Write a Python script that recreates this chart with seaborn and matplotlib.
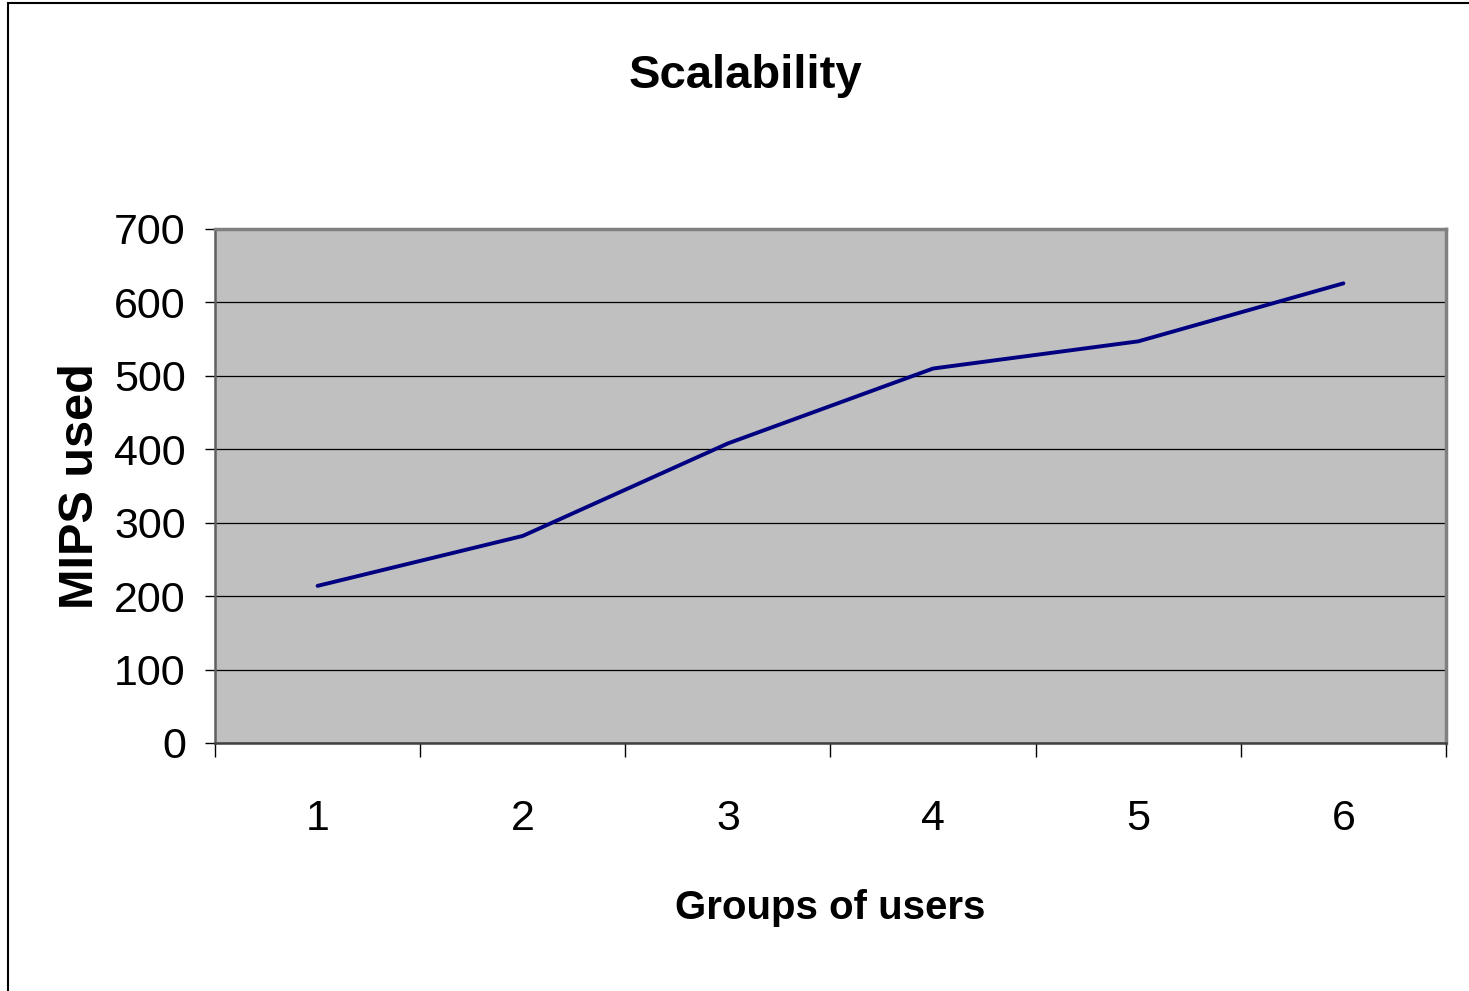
import matplotlib
matplotlib.use("Agg")
import matplotlib.pyplot as plt
import seaborn as sns
import pandas as pd
from matplotlib.patches import Rectangle

groups = [1, 2, 3, 4, 5, 6]
mips_used = [214, 282, 408, 510, 547, 626]
y_ticks = [0, 100, 200, 300, 400, 500, 600, 700]

df = pd.DataFrame({"group": groups, "mips": mips_used})

sns.set_style("white")
plt.rcParams["font.family"] = ["Liberation Sans", "DejaVu Sans"]
plt.rcParams["text.color"] = "black"
plt.rcParams["axes.labelcolor"] = "black"
plt.rcParams["xtick.color"] = "black"
plt.rcParams["ytick.color"] = "black"

fig = plt.figure(figsize=(14.69, 9.91), dpi=100)
ax = fig.add_axes([215 / 1469, 1 - 743 / 991, (1446 - 215) / 1469, 514 / 991])
ax.set_facecolor("#C0C0C0")

sns.lineplot(data=df, x="group", y="mips", ax=ax, color="#000080", linewidth=2.8)

ax.set_xlim(0.5, 6.5)
ax.set_ylim(0, 700)
ax.set_yticks(y_ticks)
ax.set_yticklabels([str(v) for v in y_ticks], fontsize=31)
ax.set_xticks(groups)
ax.set_xticklabels([str(g) for g in groups], fontsize=31)
ax.set_xticks([g - 0.5 for g in groups] + [6.5], minor=True)
ax.tick_params(axis="x", which="major", bottom=True, length=0, pad=40)
ax.tick_params(axis="x", which="minor", bottom=True, length=10, width=1,
               color="black", direction="out")
ax.tick_params(axis="y", which="major", left=True, length=7, width=1,
               color="black", direction="out", pad=14)
ax.grid(axis="y", color="black", linewidth=0.9)
ax.grid(axis="x", visible=False)

for side in ["top", "right"]:
    ax.spines[side].set_color("#808080")
    ax.spines[side].set_linewidth(2.5)
ax.spines["left"].set_color("#606060")
ax.spines["left"].set_linewidth(1.8)
ax.spines["bottom"].set_color("#404040")
ax.spines["bottom"].set_linewidth(1.8)

ax.set_xlabel("Groups of users", fontsize=29, fontweight="bold", labelpad=36)
ax.set_ylabel("MIPS used", fontsize=35, fontweight="bold", labelpad=8)

fig.text(745 / 1469, 1 - 76 / 991, "Scalability", fontsize=34, fontweight="bold",
         ha="center", va="center")

fig.patches.append(Rectangle((8 / 1469, -0.1), 1.2, 1 - 3 / 991 + 0.1,
                             transform=fig.transFigure, fill=False,
                             edgecolor="black", linewidth=1.5))

fig.savefig("out.png", dpi=100)
